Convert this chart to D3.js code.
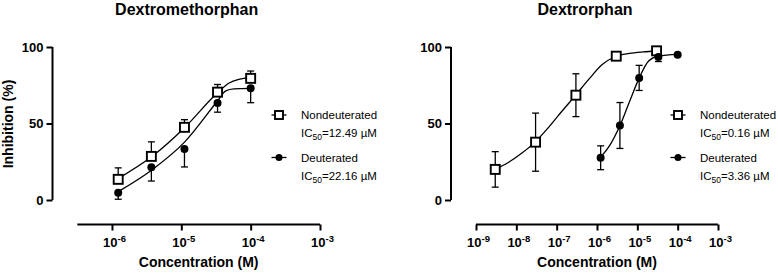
<!DOCTYPE html>
<html>
<head>
<meta charset="utf-8">
<script src="https://cdn.jsdelivr.net/npm/d3@7"></script>
<style>
  html, body { margin: 0; padding: 0; background: #fff; }
  svg text { font-family: "Liberation Sans", Arial, sans-serif; fill: #000; }
</style>
</head>
<body>
<div id="graphic"></div>
<script>
// concentrations (M)
var concDil = [1.23e-6, 3.7e-6, 1.11e-5, 3.33e-5, 1e-4];
var concTen = [3e-9, 3e-8, 3e-7, 3e-6, 3e-5];

// Dextromethorphan
var dxmNonMean = [13.5, 28.5, 47.5, 70.5, 79.5];
var dxmNonUp = [7.5, 9.5, 5, 5, 4.8];
var dxmNonDown = [0, 0, 0, 0, 0];
var dxmDeuMean = [4.8, 21.4, 33.3, 63.4, 73];
var dxmDeuUp = [0, 0, 0, 0, 0];
var dxmDeuDown = [4.3, 9, 11.7, 6, 9.4];
// fitted curves: [log10 conc, %]
var dxmNonFit = [[-5.91, 14], [-5.43, 28.2], [-4.95, 47.4], [-4.47, 70.4], [-4.31, 76.5], [-4.17, 78.9], [-4.0, 80]];
var dxmDeuFit = [[-5.91, 5.5], [-5.43, 19.5], [-4.95, 38], [-4.47, 65.2], [-4.36, 71.3], [-4.24, 72.6], [-4.0, 72.9]];

// Dextrorphan
var dxoNonMean = [20, 37.8, 68.5, 94, 97.5];
var dxoNonUp = [11.6, 19, 14, 0, 0];
var dxoNonDown = [11.6, 19, 14, 0, 0];
var dxoDeuMean = [27.6, 48.7, 79.8, 93.5, 95];
var dxoDeuUp = [7.8, 15, 8.2, 3, 0];
var dxoDeuDown = [7.8, 15, 8.2, 3, 0];
var dxoNonFit = [[-8.53, 20], [-8.2, 24.5], [-7.87, 30.5], [-7.53, 38], [-7.2, 47.5], [-6.87, 58], [-6.53, 68.5],
  [-6.2, 79], [-5.87, 88.5], [-5.54, 93.8], [-5.2, 95.8], [-4.85, 96.8], [-4.52, 97.4]];
var dxoDeuFit = [[-5.92, 27.8], [-5.68, 35.9], [-5.43, 48.7], [-5.18, 65.2], [-4.95, 80], [-4.72, 90.9], [-4.48, 94], [-4.0, 95.2]];

var yTicks = [0, 50, 100];
var legendNames = ["Nondeuterated", "Deuterated"];

var panels = [
  { title: "Dextromethorphan", x0: 77.3, x1: 320, dom: [Math.pow(10, -6.5), 1e-3], xTicks: [-6, -5, -4, -3],
    yAxisX: 52.5, showYTitle: true, legX: 279,
    ic50: ["12.49", "22.16"],
    series: [
      { conc: concDil, mean: dxmNonMean, up: dxmNonUp, down: dxmNonDown, fit: dxmNonFit, sym: "square" },
      { conc: concDil, mean: dxmDeuMean, up: dxmDeuUp, down: dxmDeuDown, fit: dxmDeuFit, sym: "circle" }
    ] },
  { title: "Dextrorphan", x0: 476, x1: 718, dom: [1e-9, 1e-3], xTicks: [-9, -8, -7, -6, -5, -4, -3],
    yAxisX: 451, showYTitle: false, legX: 678,
    ic50: ["0.16", "3.36"],
    series: [
      { conc: concTen, mean: dxoNonMean, up: dxoNonUp, down: dxoNonDown, fit: dxoNonFit, sym: "square" },
      { conc: concDil, mean: dxoDeuMean, up: dxoDeuUp, down: dxoDeuDown, fit: dxoDeuFit, sym: "circle" }
    ] }
];

var svg = d3.select("#graphic").append("svg").attr("width", 778).attr("height", 273);
var y = d3.scaleLinear().domain([0, 100]).range([200, 47]);

function marker(g, sym, cx, cy, sz) {
  if (sym === "square") {
    g.append("rect").attr("x", cx - sz / 2).attr("y", cy - sz / 2).attr("width", sz).attr("height", sz)
      .attr("fill", "#fff").attr("stroke", "#000").attr("stroke-width", 1.9);
  } else {
    g.append("circle").attr("cx", cx).attr("cy", cy).attr("r", sz / 2 - 0.5).attr("fill", "#000");
  }
}

panels.forEach(function(p) {
  var x = d3.scaleLog().domain(p.dom).range([p.x0, p.x1]);
  var g = svg.append("g");

  // title
  g.append("text").attr("x", (p.x0 + p.x1) / 2 - 12).attr("y", 14.5).attr("text-anchor", "middle")
    .attr("font-size", 16).attr("font-weight", "bold").text(p.title);

  // y axis
  var ya = g.append("g").attr("transform", "translate(" + p.yAxisX + ",0)")
    .call(d3.axisLeft(y).tickValues(yTicks).tickSize(6).tickPadding(3));
  ya.select(".domain").attr("stroke-width", 2).attr("d", "M0," + y(100) + "V" + y(0));
  ya.selectAll(".tick line").attr("stroke-width", 2);
  ya.selectAll(".tick text").attr("font-size", 13).attr("font-weight", "bold")
    .attr("font-family", "'Liberation Sans', Arial, sans-serif");

  if (p.showYTitle) {
    g.append("text").attr("transform", "translate(13,124) rotate(-90)").attr("text-anchor", "middle")
      .attr("font-size", 14).attr("font-weight", "bold").text("Inhibition (%)");
  }

  // x axis
  var xa = g.append("g").attr("transform", "translate(0,224.5)")
    .call(d3.axisBottom(x).tickValues(p.xTicks.map(function(e) { return Math.pow(10, e); }))
      .tickSize(6).tickFormat(""));
  xa.select(".domain").attr("stroke-width", 2).attr("d", "M" + p.x0 + ",0H" + p.x1);
  xa.selectAll(".tick line").attr("stroke-width", 2);
  xa.selectAll(".tick").each(function(d, i) {
    var t = d3.select(this).append("text").attr("x", 2).attr("y", 22.5).attr("text-anchor", "middle")
      .attr("font-size", 13).attr("font-weight", "bold").attr("fill", "#000")
      .attr("font-family", "'Liberation Sans', Arial, sans-serif");
    t.append("tspan").text("10");
    t.append("tspan").attr("dy", -5.5).attr("font-size", 9.5).text("-" + Math.abs(p.xTicks[i]));
  });

  g.append("text").attr("x", (p.x0 + p.x1) / 2).attr("y", 267).attr("text-anchor", "middle")
    .attr("font-size", 14).attr("font-weight", "bold").text("Concentration (M)");

  // curves
  var line = d3.line().curve(d3.curveMonotoneX)
    .x(function(d) { return x(Math.pow(10, d[0])); })
    .y(function(d) { return y(d[1]); });
  p.series.forEach(function(s) {
    g.append("path").datum(s.fit).attr("d", line).attr("fill", "none")
      .attr("stroke", "#000").attr("stroke-width", 1.3);
  });

  // error bars
  p.series.forEach(function(s) {
    s.conc.forEach(function(c, i) {
      var cx = x(c);
      var lo = s.mean[i] - s.down[i], hi = s.mean[i] + s.up[i];
      if (s.up[i] > 0) {
        g.append("line").attr("x1", cx).attr("x2", cx).attr("y1", y(s.mean[i])).attr("y2", y(hi))
          .attr("stroke", "#000").attr("stroke-width", 1.3);
        g.append("line").attr("x1", cx - 3.5).attr("x2", cx + 3.5).attr("y1", y(hi)).attr("y2", y(hi))
          .attr("stroke", "#000").attr("stroke-width", 1.3);
      }
      if (s.down[i] > 0) {
        g.append("line").attr("x1", cx).attr("x2", cx).attr("y1", y(s.mean[i])).attr("y2", y(lo))
          .attr("stroke", "#000").attr("stroke-width", 1.3);
        g.append("line").attr("x1", cx - 3.5).attr("x2", cx + 3.5).attr("y1", y(lo)).attr("y2", y(lo))
          .attr("stroke", "#000").attr("stroke-width", 1.3);
      }
    });
  });

  // markers
  p.series.forEach(function(s) {
    s.conc.forEach(function(c, i) { marker(g, s.sym, x(c), y(s.mean[i]), 9); });
  });

  // legend
  var rows = [115, 157.5];
  p.series.forEach(function(s, k) {
    var ly = rows[k];
    g.append("line").attr("x1", p.legX - 7.5).attr("x2", p.legX + 7.5).attr("y1", ly).attr("y2", ly)
      .attr("stroke", "#000").attr("stroke-width", 1.3);
    marker(g, s.sym, p.legX, ly, 8);
    g.append("text").attr("x", p.legX + 22).attr("y", ly + 4.2).attr("font-size", 11.5).text(legendNames[k]);
    var t = g.append("text").attr("x", p.legX + 22).attr("y", ly + 22).attr("font-size", 11.5);
    t.append("tspan").text("IC");
    t.append("tspan").attr("dy", 3).attr("font-size", 8.5).text("50");
    t.append("tspan").attr("dy", -3).text("=" + p.ic50[k] + " \u00b5M");
  });
});
</script>
</body>
</html>
